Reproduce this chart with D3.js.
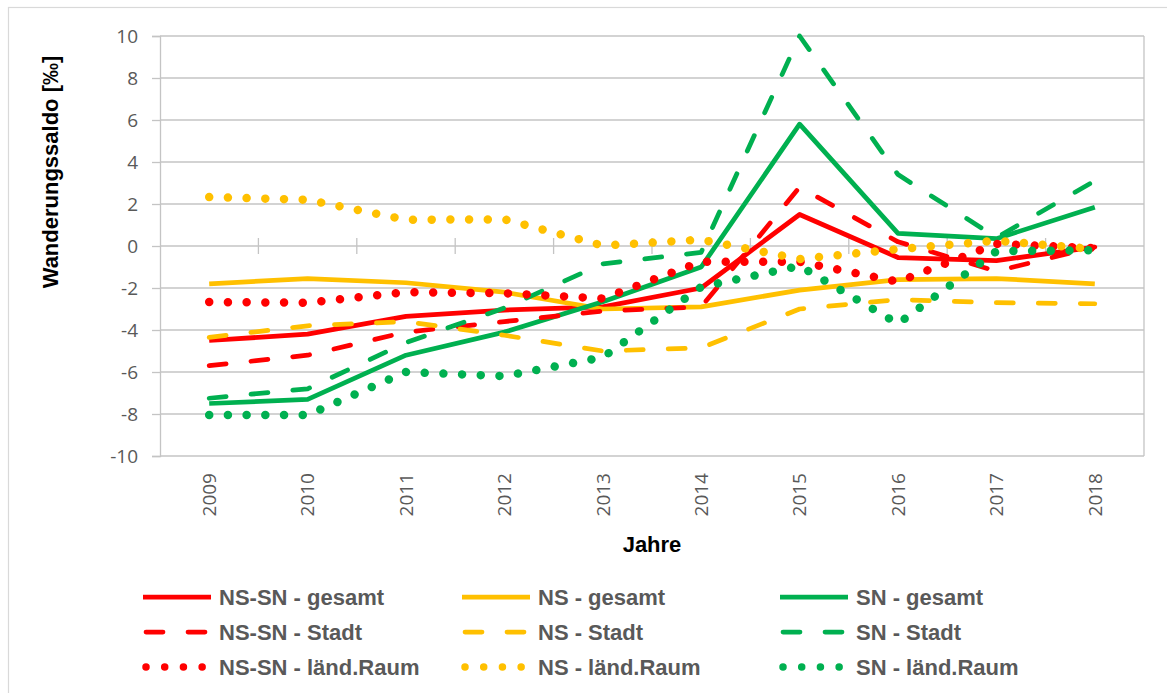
<!DOCTYPE html>
<meta charset="utf-8">
<style>
body { margin: 0; background: #fff; }
.lbl { font-family: "Liberation Sans", Arial, sans-serif; font-weight: bold; font-size: 22px; }
</style>
<body>
<script src="https://cdn.jsdelivr.net/npm/d3@7"></script>
<script>
// data
var years = ["2009","2010","2011","2012","2013","2014","2015","2016","2017","2018"];
var nssnGesamt = [-4.5, -4.2, -3.35, -3.05, -2.9, -2.0, 1.5, -0.55, -0.7, -0.05];
var nsGesamt   = [-1.8, -1.55, -1.75, -2.2, -3.0, -2.9, -2.1, -1.6, -1.55, -1.8];
var snGesamt   = [-7.5, -7.3, -5.2, -4.1, -2.65, -1.0, 5.8, 0.6, 0.35, 1.85];
var nssnStadt  = [-5.7, -5.2, -4.1, -3.6, -3.1, -2.9, 2.8, 0.2, -1.2, -0.05];
var nsStadt    = [-4.35, -3.8, -3.6, -4.25, -5.0, -4.85, -3.0, -2.55, -2.7, -2.75];
var snStadt    = [-7.25, -6.8, -4.6, -2.95, -0.85, -0.3, 10.0, 3.4, 0.4, 3.1];
var nssnLand   = [-2.67, -2.7, -2.2, -2.25, -2.5, -0.75, -0.75, -1.7, 0.1, -0.1];
var nsLand     = [2.33, 2.2, 1.25, 1.27, 0.02, 0.3, -0.62, -0.15, 0.25, -0.15];
var snLand     = [-8.05, -8.05, -6.0, -6.2, -5.3, -1.95, -0.95, -3.7, -0.25, -0.2];
var yTicks = [-10, -8, -6, -4, -2, 0, 2, 4, 6, 8, 10];

var RED = "#FF0000", YEL = "#FFC000", GRN = "#00B050";
var series = [
  {name: "NS-SN - gesamt",     vals: nssnGesamt, color: RED, style: "solid"},
  {name: "NS - gesamt",        vals: nsGesamt,   color: YEL, style: "solid"},
  {name: "SN - gesamt",        vals: snGesamt,   color: GRN, style: "solid"},
  {name: "NS-SN - Stadt",      vals: nssnStadt,  color: RED, style: "dash"},
  {name: "NS - Stadt",         vals: nsStadt,    color: YEL, style: "dash"},
  {name: "SN - Stadt",         vals: snStadt,    color: GRN, style: "dash"},
  {name: "NS-SN - länd.Raum",  vals: nssnLand,   color: RED, style: "dot"},
  {name: "NS - länd.Raum",     vals: nsLand,     color: YEL, style: "dot"},
  {name: "SN - länd.Raum",     vals: snLand,     color: GRN, style: "dot"}
];

var width = 1167, height = 693;
var plotL = 160, plotR = 1144, plotT = 36, plotB = 456;
var grid = "#c4c4c4";

var svg = d3.select("body").append("svg")
    .attr("width", width)
    .attr("height", height);

// chart frame
svg.append("rect")
    .attr("x", 8.5).attr("y", 7.5)
    .attr("width", 1180).attr("height", 700)
    .attr("fill", "none").attr("stroke", "#d9d9d9").attr("stroke-width", 1.2);

var x = d3.scaleBand().domain(years).range([plotL, plotR]);
var y = d3.scaleLinear().domain([-10, 10]).range([plotB, plotT]);
function cx(d) { return x(d) + x.bandwidth() / 2; }

// gridlines
svg.append("g").selectAll("line").data(yTicks).enter().append("line")
    .attr("x1", plotL).attr("x2", plotR)
    .attr("y1", function(d) { return y(d); }).attr("y2", function(d) { return y(d); })
    .attr("stroke", grid).attr("stroke-width", 1.3);

// right border of plot
svg.append("line")
    .attr("x1", plotR).attr("x2", plotR).attr("y1", plotT).attr("y2", plotB)
    .attr("stroke", grid).attr("stroke-width", 1.3);

// y axis (plain hyphen minus like the original)
var yAxis = svg.append("g")
    .attr("transform", "translate(" + plotL + ",0)")
    .call(d3.axisLeft(y).tickValues(yTicks).tickSize(8).tickPadding(14)
      .tickFormat(function(d) { return String(d); }));
yAxis.select(".domain").attr("stroke", grid).attr("stroke-width", 1.3);
yAxis.selectAll(".tick line").attr("stroke", grid).attr("stroke-width", 1.3);
yAxis.selectAll(".tick text")
    .style("font-family", "'Open Sans', sans-serif")
    .style("font-size", "19px")
    .style("fill", "#595959");

// category axis crosses at 0, tick marks between categories
var bounds = years.slice(1).map(function(d) { return x(d); });
svg.append("g").selectAll("line").data(bounds).enter().append("line")
    .attr("x1", function(d) { return d; }).attr("x2", function(d) { return d; })
    .attr("y1", y(0) - 8).attr("y2", y(0) + 8)
    .attr("stroke", grid).attr("stroke-width", 1.3);

// year labels at the bottom, rotated
svg.append("g").selectAll("text").data(years).enter().append("text")
    .attr("transform", function(d) { return "translate(" + cx(d) + ",473) rotate(-90)"; })
    .attr("text-anchor", "end")
    .attr("dy", "0.36em")
    .style("font-family", "'Open Sans', sans-serif")
    .style("font-size", "19px")
    .style("fill", "#595959")
    .text(function(d) { return d; });

// axis titles
svg.append("text").attr("class", "lbl")
    .attr("transform", "translate(58,172) rotate(-90)")
    .attr("text-anchor", "middle")
    .attr("fill", "#000")
    .text("Wanderungssaldo [‰]");

svg.append("text").attr("class", "lbl")
    .attr("x", (plotL + plotR) / 2).attr("y", 552)
    .attr("text-anchor", "middle")
    .attr("fill", "#000")
    .text("Jahre");

function styleLine(sel, s) {
  sel.attr("fill", "none").attr("stroke", s.color);
  if (s.style == "solid") {
    sel.attr("stroke-width", 4.75).attr("stroke-linejoin", "round");
  } else if (s.style == "dash") {
    sel.attr("stroke-width", 4.75).attr("stroke-linecap", "round")
       .attr("stroke-dasharray", "17,25").attr("stroke-linejoin", "round");
  } else {
    sel.attr("stroke-width", 8.5).attr("stroke-linecap", "round")
       .attr("stroke-dasharray", "0.01,18.7");
  }
}

var line = d3.line()
    .x(function(d, i) { return cx(years[i]); })
    .y(function(d) { return y(d); });

series.forEach(function(s) {
  svg.append("path").datum(s.vals).attr("d", line).call(styleLine, s);
});

// legend, 3 columns x 3 rows
var colX = [143, 462, 780];
var rowY = [597, 632, 667];
series.forEach(function(s, i) {
  var c = i % 3, r = Math.floor(i / 3);
  var lx = colX[c], ly = rowY[r];
  var sample = svg.append("line")
      .attr("x1", s.style == "solid" ? lx : lx + 3).attr("x2", lx + 68)
      .attr("y1", ly).attr("y2", ly)
      .call(styleLine, s);
  if (s.style == "dot") sample.attr("stroke-width", 7.5);
  svg.append("text").attr("class", "lbl")
      .attr("x", lx + 76).attr("y", ly + 8)
      .attr("fill", "#595959")
      .text(s.name);
});
</script>
